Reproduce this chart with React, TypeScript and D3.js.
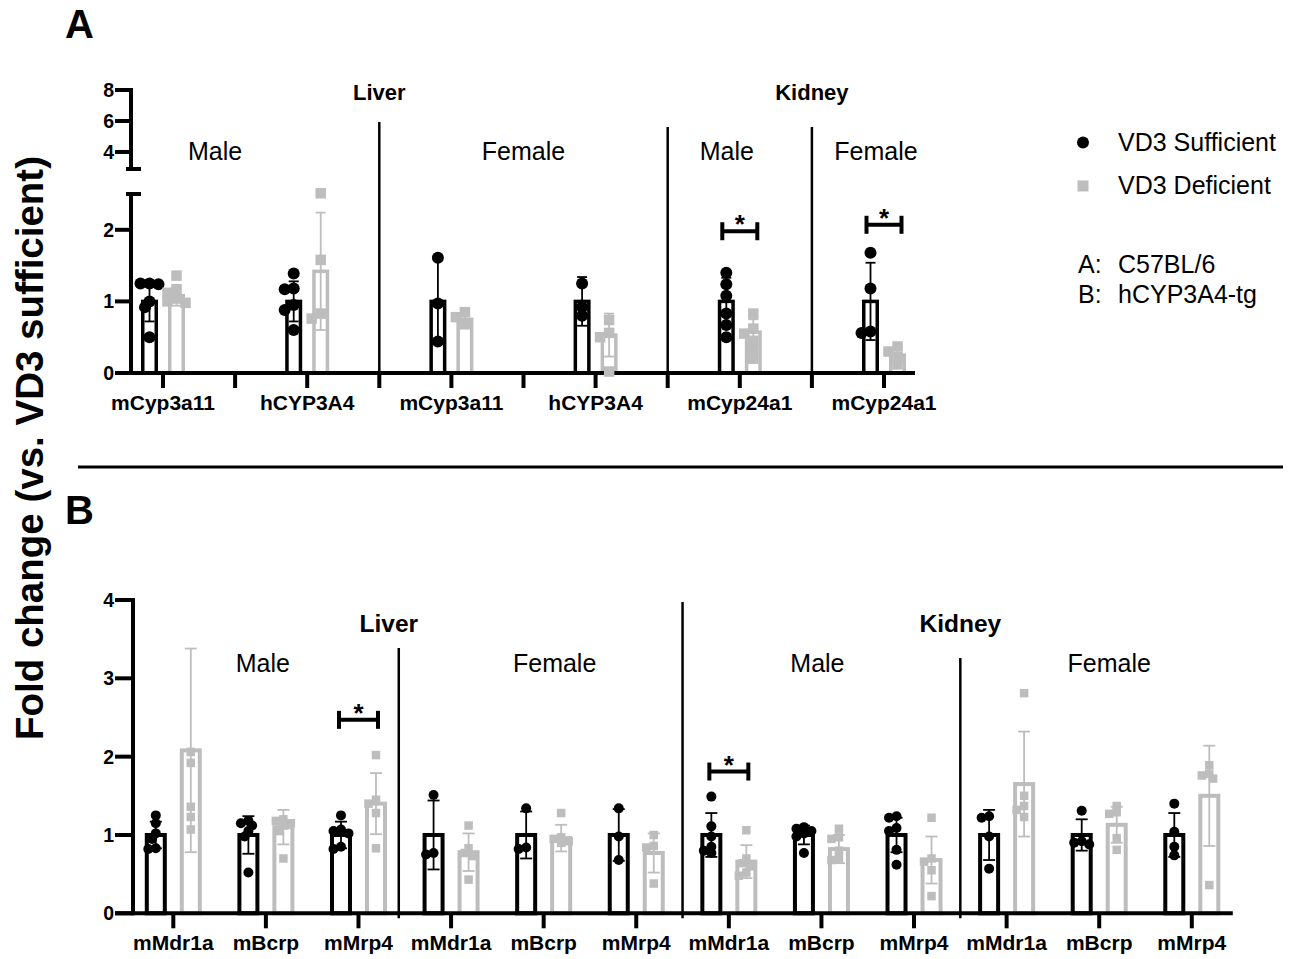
import * as d3 from 'd3';
import React from 'react';

// ---------- Panel A (C57BL/6) ----------
const genesA = ['mCyp3a11', 'hCYP3A4', 'mCyp3a11', 'hCYP3A4', 'mCyp24a1', 'mCyp24a1'];
const suffMeanA = [1.0, 1.0, 1.0, 1.0, 1.0, 1.0];
const suffSdA = [0.28, 0.28, 0.59, 0.34, 0.33, 0.54];
const suffPtsA = [
    [1.25, 1.25, 1.24, 1.0, 0.92, 0.5],
    [1.39, 1.18, 1.17, 0.95, 0.88, 0.6],
    [1.61, 0.97, 0.44],
    [1.25, 0.92, 0.8],
    [1.40, 1.24, 1.08, 0.83, 0.67, 0.50],
    [1.68, 1.18, 0.58, 0.56],
];
const defMeanA = [1.08, 1.42, 0.75, 0.53, 0.57, 0.25];
const defSdA = [0.14, 0.82, 0.09, 0.3, 0.18, 0.1];
const defPtsA = [
    [1.36, 1.17, 1.12, 1.04, 1.0, 0.98],
    [2.51, 1.58, 0.83, 0.76],
    [0.85, 0.78, 0.68],
    [0.74, 0.56, 0.5, 0.02],
    [0.83, 0.62, 0.55, 0.45, 0.33, 0.2],
    [0.37, 0.3, 0.22, 0.12],
];
const sigA = [{ i: 4, y: 1.98 }, { i: 5, y: 2.07 }];
const tissueA = [{ label: 'Liver', from: 0, to: 3 }, { label: 'Kidney', from: 4, to: 5 }];
const sexA = [{ label: 'Male', from: 0, to: 1 }, { label: 'Female', from: 2, to: 3 }, { label: 'Male', from: 4, to: 4 }, { label: 'Female', from: 5, to: 5 }];
const sepAfterA = [1, 3, 4];
const ticksLowA = [0, 1, 2];
const ticksHighA = [4, 6, 8];

// ---------- Panel B (hCYP3A4-tg) ----------
const genesB = ['mMdr1a', 'mBcrp', 'mMrp4', 'mMdr1a', 'mBcrp', 'mMrp4', 'mMdr1a', 'mBcrp', 'mMrp4', 'mMdr1a', 'mBcrp', 'mMrp4'];
const suffMeanB = [1.0, 1.0, 1.0, 1.0, 1.0, 1.0, 1.0, 1.0, 1.0, 1.0, 1.0, 1.0];
const suffSdB = [0.17, 0.24, 0.17, 0.44, 0.3, 0.33, 0.28, 0.12, 0.22, 0.32, 0.2, 0.28];
const suffPtsB = [
    [1.25, 1.15, 1.02, 0.95, 0.83, 0.82],
    [1.18, 1.15, 1.12, 1.05, 0.98, 0.52],
    [1.25, 1.07, 1.05, 1.02, 0.85, 0.82],
    [1.51, 0.77, 0.75],
    [1.34, 0.84, 0.82],
    [1.34, 0.98, 0.68],
    [1.49, 1.11, 0.98, 0.85, 0.8, 0.77],
    [1.10, 1.08, 1.05, 1.02, 0.98, 0.77],
    [1.24, 1.22, 1.09, 1.05, 0.81, 0.62],
    [1.24, 1.22, 0.98, 0.57],
    [1.31, 0.92, 0.90, 0.88],
    [1.40, 1.04, 0.85, 0.74],
];
const defMeanB = [2.08, 1.10, 1.40, 0.78, 0.96, 0.77, 0.66, 0.82, 0.68, 1.65, 1.13, 1.50];
const defSdB = [1.3, 0.22, 0.39, 0.24, 0.17, 0.25, 0.21, 0.18, 0.3, 0.67, 0.23, 0.64];
const defPtsB = [
    [2.06, 1.92, 1.36, 1.23, 1.07],
    [1.2, 1.18, 1.15, 1.12, 1.05, 0.7],
    [2.02, 1.45, 1.40, 1.28, 0.83],
    [1.12, 0.83, 0.77, 0.73, 0.43],
    [1.28, 0.97, 0.95, 0.92, 0.90],
    [1.0, 0.86, 0.84, 0.38],
    [1.06, 0.70, 0.64, 0.60, 0.52, 0.48],
    [1.08, 0.97, 0.95, 0.80, 0.70, 0.68],
    [1.22, 0.70, 0.66, 0.55, 0.22],
    [2.81, 1.50, 1.37, 1.32, 1.23],
    [1.37, 1.29, 1.27, 0.96, 0.81],
    [1.89, 1.78, 1.76, 1.72, 0.36],
];
const sigB = [{ i: 2, y: 2.47 }, { i: 6, y: 1.81 }];
const tissueB = [{ label: 'Liver', from: 0, to: 5 }, { label: 'Kidney', from: 6, to: 11 }];
const sexB = [{ label: 'Male', from: 0, to: 2 }, { label: 'Female', from: 3, to: 5 }, { label: 'Male', from: 6, to: 8 }, { label: 'Female', from: 9, to: 11 }];
const sepAfterB = [2, 5, 8];
const ticksB = [0, 1, 2, 3, 4];

const legendItems = ['VD3 Sufficient', 'VD3 Deficient'];
const strainNotes = [['A:', 'C57BL/6'], ['B:', 'hCYP3A4-tg']];

const FONT = '"Liberation Sans", Arial, Helvetica, sans-serif';
const GRAY = '#bdbdbd';

// simple deterministic swarm so dots don't sit exactly on top of each other
function swarm(ys: number[], minDist: number, step: number): number[] {
    const placed: [number, number][] = [];
    const out: number[] = [];
    ys.forEach((y) => {
        const cands = [0, -step, step, -2 * step, 2 * step];
        let best = 0;
        let bestOverlap = Infinity;
        for (const dx of cands) {
            let worst = 0;
            for (const [px, py] of placed) {
                const d = Math.hypot(px - dx, py - y);
                if (d < minDist) worst = Math.max(worst, minDist - d);
            }
            if (worst === 0) { best = dx; bestOverlap = 0; break; }
            if (worst < bestOverlap) { bestOverlap = worst; best = dx; }
        }
        out.push(best);
        placed.push([best, y]);
    });
    return out;
}

const Group = (props: any) => {
    const { cx, mean, sd, y, def, dims } = props;
    const color = def ? GRAY : 'black';
    const top = y(mean);
    const base = y(0);
    const lo = y(Math.max(0, mean - sd));
    const hi = y(mean + sd);
    return (
        <g>
            <rect x={cx - dims.barW / 2} y={top} width={dims.barW} height={base - top}
                fill="white" stroke={color} strokeWidth={dims.barStroke} />
            <line x1={cx} x2={cx} y1={lo} y2={hi} stroke={color} strokeWidth={1.8} />
            <line x1={cx - dims.capW / 2} x2={cx + dims.capW / 2} y1={hi} y2={hi} stroke={color} strokeWidth={1.8} />
            <line x1={cx - dims.capW / 2} x2={cx + dims.capW / 2} y1={lo} y2={lo} stroke={color} strokeWidth={1.8} />
        </g>
    );
};

const Points = (props: any) => {
    const { cx, pts, y, def, dims } = props;
    const ys = pts.map((v: number) => y(v));
    const offs = swarm(ys, dims.r * 1.15, dims.r * 0.75);
    return (
        <g>
            {ys.map((py: number, k: number) => def
                ? <rect key={k} x={cx + offs[k] - dims.sq / 2} y={py - dims.sq / 2} width={dims.sq} height={dims.sq} fill={GRAY} />
                : <circle key={k} cx={cx + offs[k]} cy={py} r={dims.r} fill="black" />)}
        </g>
    );
};

const Sig = (props: any) => {
    const { cx, y, half } = props;
    return (
        <g>
            <line x1={cx - half} x2={cx + half} y1={y} y2={y} stroke="black" strokeWidth={4} />
            <line x1={cx - half} x2={cx - half} y1={y - 9} y2={y + 9} stroke="black" strokeWidth={4} />
            <line x1={cx + half} x2={cx + half} y1={y - 9} y2={y + 9} stroke="black" strokeWidth={4} />
            <text x={cx} y={y + 2} textAnchor="middle" fontSize={26} fontWeight="bold" fontFamily={FONT}>*</text>
        </g>
    );
};

export default function App() {
    // ----- A scales -----
    const axA = 131;
    const y0A = 373;
    const xA = d3.scalePoint<number>().domain(d3.range(genesA.length)).range([163, 884]);
    const yLowA = d3.scaleLinear().domain([0, 2.5]).range([y0A, 194]);
    const yHighA = d3.scaleLinear().domain([2.9, 8]).range([169, 90]);
    const dimsA = { barW: 13.5, barStroke: 3.5, capW: 10, r: 6, sq: 10.5 };
    const offA = 13.5;
    const stepA = xA.step();
    const sepTopA = [122, 127, 127];
    const sexDxA = [-20, 0, -13, -8];

    // ----- B scales -----
    const axB = 133;
    const y0B = 913.3;
    const xB = d3.scalePoint<number>().domain(d3.range(genesB.length)).range([173.3, 1191.8]);
    const yB = d3.scaleLinear().domain([0, 4]).range([y0B, 600]);
    const dimsB = { barW: 18, barStroke: 4, capW: 12, r: 5, sq: 8.5 };
    const offB = 17.5;
    const stepB = xB.step();
    const sepTopB = [648, 602, 658];
    const sepDxB = [-6, 0, 0];
    const tissueDxB = [-16, 0];
    const sexDxB = [-3, 11, -4, 10];

    const mid = (sc: any, a: number, b: number) => (sc(a) + sc(b)) / 2;

    return (
        <svg width={1295} height={959} style={{ position: 'absolute', left: 0, top: 0, background: 'white' }} fontFamily={FONT}>
            <rect width={1295} height={959} fill="white" />

            {/* panel letters + shared y title */}
            <text x={65} y={38} fontSize={40} fontWeight="bold">A</text>
            <text x={65} y={524} fontSize={40} fontWeight="bold">B</text>
            <text transform="translate(43, 448) rotate(-90)" textAnchor="middle" fontSize={38.5} fontWeight="bold">
                Fold change (vs. VD3 sufficient)
            </text>
            <line x1={78} x2={1283} y1={467} y2={467} stroke="black" strokeWidth={3} />

            {/* ================= PANEL A ================= */}
            {genesA.map((g, i) => (
                <g key={'ga' + i}>
                    <Group cx={xA(i)! - offA} mean={suffMeanA[i]} sd={suffSdA[i]} y={yLowA} def={false} dims={dimsA} />
                    <Group cx={xA(i)! + offA} mean={defMeanA[i]} sd={defSdA[i]} y={yLowA} def={true} dims={dimsA} />
                </g>
            ))}
            {sepAfterA.map((s, k) => (
                <line key={'sa' + k} x1={xA(s)! + stepA / 2} x2={xA(s)! + stepA / 2} y1={sepTopA[k]} y2={y0A + 15}
                    stroke="black" strokeWidth={2.5} />
            ))}
            {/* y axis, broken */}
            <line x1={axA} x2={axA} y1={y0A + 2} y2={194} stroke="black" strokeWidth={4} />
            <line x1={axA - 5} x2={axA + 10} y1={194} y2={194} stroke="black" strokeWidth={4} />
            <line x1={axA} x2={axA} y1={169} y2={yHighA(8) - 2} stroke="black" strokeWidth={4} />
            <line x1={axA - 5} x2={axA + 10} y1={169} y2={169} stroke="black" strokeWidth={4} />
            {ticksLowA.map((t) => (
                <g key={'tla' + t}>
                    <line x1={axA - 16} x2={axA} y1={yLowA(t)} y2={yLowA(t)} stroke="black" strokeWidth={4} />
                    <text x={axA - 17} y={yLowA(t)} dy="0.36em" textAnchor="end" fontSize={19.5} fontWeight="bold">{t}</text>
                </g>
            ))}
            {ticksHighA.map((t) => (
                <g key={'tha' + t}>
                    <line x1={axA - 16} x2={axA} y1={yHighA(t)} y2={yHighA(t)} stroke="black" strokeWidth={4} />
                    <text x={axA - 17} y={yHighA(t)} dy="0.36em" textAnchor="end" fontSize={19.5} fontWeight="bold">{t}</text>
                </g>
            ))}
            {/* x axis */}
            <line x1={axA - 16} x2={xA(genesA.length - 1)! + 31} y1={y0A} y2={y0A} stroke="black" strokeWidth={4} />
            {genesA.map((g, i) => (
                <g key={'xa' + i}>
                    <line x1={xA(i)} x2={xA(i)} y1={y0A} y2={y0A + 15} stroke="black" strokeWidth={4} />
                    {i < genesA.length - 1 &&
                        <line x1={xA(i)! + stepA / 2} x2={xA(i)! + stepA / 2} y1={y0A} y2={y0A + 15} stroke="black" strokeWidth={4} />}
                    <text x={xA(i)} y={410} textAnchor="middle" fontSize={21} fontWeight="bold">{g}</text>
                </g>
            ))}
            {genesA.map((g, i) => (
                <g key={'pa' + i}>
                    <Points cx={xA(i)! - offA} pts={suffPtsA[i]} y={yLowA} def={false} dims={dimsA} />
                    <Points cx={xA(i)! + offA} pts={defPtsA[i]} y={yLowA} def={true} dims={dimsA} />
                </g>
            ))}
            {sigA.map((s, k) => <Sig key={'siga' + k} cx={xA(s.i)} y={yLowA(s.y)} half={17.5} />)}
            {tissueA.map((t, k) => (
                <text key={'ta' + k} x={mid(xA, t.from, t.to)} y={100} textAnchor="middle" fontSize={22} fontWeight="bold">{t.label}</text>
            ))}
            {sexA.map((t, k) => (
                <text key={'xsa' + k} x={mid(xA, t.from, t.to) + sexDxA[k]} y={160} textAnchor="middle" fontSize={25}>{t.label}</text>
            ))}

            {/* legend */}
            <circle cx={1083} cy={142.5} r={6} fill="black" />
            <rect x={1083 - 5.5} y={186 - 5.5} width={11} height={11} fill={GRAY} />
            {legendItems.map((l, k) => (
                <text key={'lg' + k} x={1118} y={151 + k * 43} fontSize={25}>{l}</text>
            ))}
            {strainNotes.map((n, k) => (
                <g key={'sn' + k}>
                    <text x={1078} y={273 + k * 30} fontSize={25}>{n[0]}</text>
                    <text x={1118} y={273 + k * 30} fontSize={25}>{n[1]}</text>
                </g>
            ))}

            {/* ================= PANEL B ================= */}
            {genesB.map((g, i) => (
                <g key={'gb' + i}>
                    <Group cx={xB(i)! - offB} mean={suffMeanB[i]} sd={suffSdB[i]} y={yB} def={false} dims={dimsB} />
                    <Group cx={xB(i)! + offB} mean={defMeanB[i]} sd={defSdB[i]} y={yB} def={true} dims={dimsB} />
                </g>
            ))}
            {sepAfterB.map((s, k) => (
                <line key={'sb' + k} x1={xB(s)! + stepB / 2 + sepDxB[k]} x2={xB(s)! + stepB / 2 + sepDxB[k]} y1={sepTopB[k]} y2={y0B + 5}
                    stroke="black" strokeWidth={2.5} />
            ))}
            <line x1={axB} x2={axB} y1={y0B + 2} y2={yB(4) - 2} stroke="black" strokeWidth={4} />
            {ticksB.map((t) => (
                <g key={'tb' + t}>
                    <line x1={axB - 18} x2={axB} y1={yB(t)} y2={yB(t)} stroke="black" strokeWidth={4} />
                    <text x={axB - 19} y={yB(t)} dy="0.36em" textAnchor="end" fontSize={19.5} fontWeight="bold">{t}</text>
                </g>
            ))}
            <line x1={axB - 18} x2={xB(genesB.length - 1)! + 41} y1={y0B} y2={y0B} stroke="black" strokeWidth={4} />
            {genesB.map((g, i) => (
                <g key={'xb' + i}>
                    <line x1={xB(i)} x2={xB(i)} y1={y0B} y2={y0B + 15} stroke="black" strokeWidth={4} />
                    <text x={xB(i)} y={950} textAnchor="middle" fontSize={21} fontWeight="bold">{g}</text>
                </g>
            ))}
            {genesB.map((g, i) => (
                <g key={'pb' + i}>
                    <Points cx={xB(i)! - offB} pts={suffPtsB[i]} y={yB} def={false} dims={dimsB} />
                    <Points cx={xB(i)! + offB} pts={defPtsB[i]} y={yB} def={true} dims={dimsB} />
                </g>
            ))}
            {sigB.map((s, k) => <Sig key={'sigb' + k} cx={xB(s.i)} y={yB(s.y)} half={19.5} />)}
            {tissueB.map((t, k) => (
                <text key={'tbl' + k} x={mid(xB, t.from, t.to) + tissueDxB[k]} y={632} textAnchor="middle" fontSize={24.5} fontWeight="bold">{t.label}</text>
            ))}
            {sexB.map((t, k) => (
                <text key={'xsb' + k} x={mid(xB, t.from, t.to) + sexDxB[k]} y={672} textAnchor="middle" fontSize={25}>{t.label}</text>
            ))}
        </svg>
    );
}
